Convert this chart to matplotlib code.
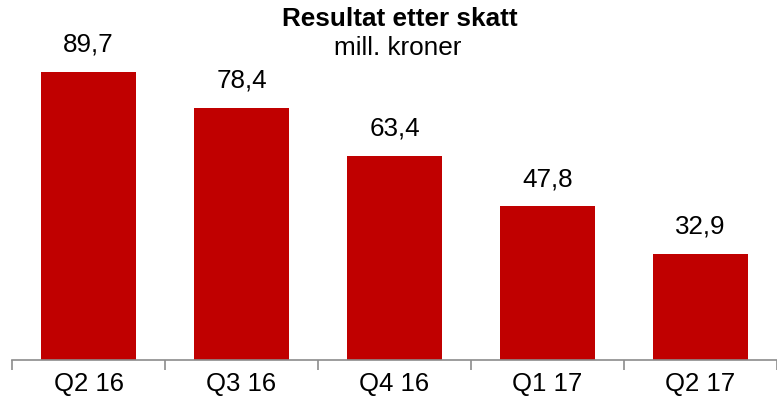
import matplotlib.pyplot as plt

plt.rcParams["font.family"] = ["Liberation Sans", "DejaVu Sans"]

categories = ["Q2 16", "Q3 16", "Q4 16", "Q1 17", "Q2 17"]
values = [89.7, 78.4, 63.4, 47.8, 32.9]

fig = plt.figure(figsize=(7.77, 4.04), dpi=100)
ax = fig.add_axes([12 / 777, 44 / 404, 765 / 777, 360 / 404])

x = range(len(categories))
bars = ax.bar(x, values, width=0.62, color="#C00000")

for xi, v in zip(x, values):
    ax.annotate(f"{v:.1f}".replace(".", ","), (xi, v), xytext=(0, 11),
                textcoords="offset points", ha="center", va="bottom", fontsize=18.7)

ax.set_xlim(-0.5, len(categories) - 0.5)
ax.set_ylim(0, 112)

# ticks between the categories, labels in the middle
ax.set_xticks([i - 0.5 for i in range(len(categories) + 1)])
ax.set_xticklabels([])
ax.set_xticks(list(x), minor=True)
ax.set_xticklabels(categories, minor=True, fontsize=18.5)
ax.tick_params(axis="x", which="major", length=7, width=1.2, color="#8C8C8C")
ax.tick_params(axis="x", which="minor", length=0, pad=9)
ax.set_yticks([])

for s in ["top", "right", "left"]:
    ax.spines[s].set_visible(False)
ax.spines["bottom"].set_color("#8C8C8C")
ax.spines["bottom"].set_linewidth(1.2)

fig.text(399.5 / 777, 1 - 19 / 404, "Resultat etter skatt", ha="center", va="center",
         fontsize=18.8, fontweight="bold")
fig.text(397.5 / 777, 1 - 48 / 404, "mill. kroner", ha="center", va="center", fontsize=18.8)

fig.savefig("out.png", dpi=100)
